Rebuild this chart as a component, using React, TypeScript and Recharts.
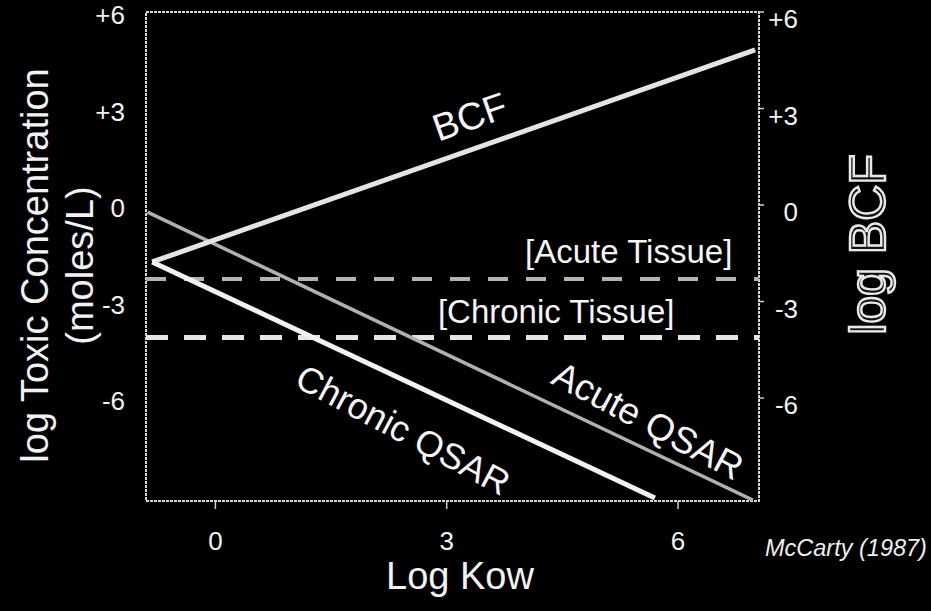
import React from 'react';
import { ComposedChart, Line, XAxis, YAxis, ReferenceArea, ReferenceDot, Label } from 'recharts';

// Log Kow (x) vs log concentration / log BCF (y)
const bcfLine = [
  { logKow: -0.82, value: -1.77 },
  { logKow: 7.0, value: 4.82 },
];
const chronicQsar = [
  { logKow: -0.82, value: -1.77 },
  { logKow: 5.7, value: -9.11 },
];
const acuteQsar = [
  { logKow: -0.88, value: -0.22 },
  { logKow: 6.97, value: -9.17 },
];
const acuteTissue = [
  { logKow: -0.9, value: -2.3 },
  { logKow: 7.05, value: -2.3 },
];
const chronicTissue = [
  { logKow: -0.9, value: -4.12 },
  { logKow: 7.05, value: -4.12 },
];

const xTicks = [0, 3, 6];
const yTicks = [-6, -3, 0, 3, 6];
const xDomain: [number, number] = [-0.9, 7.05];
const yDomain: [number, number] = [-9.2, 6];

const annotations = [
  { text: 'BCF', logKow: 3.3, value: 2.74, angle: -19.4, size: 38, baseline: 'central' },
  { text: 'Chronic QSAR', logKow: 2.435, value: -6.99, angle: 28, size: 36, baseline: 'central' },
  { text: 'Acute QSAR', logKow: 5.61, value: -6.71, angle: 28, size: 37, baseline: 'central' },
  { text: '[Acute Tissue]', logKow: 5.36, value: -1.8, angle: 0, size: 33, baseline: 'alphabetic' },
  { text: '[Chronic Tissue]', logKow: 4.42, value: -3.67, angle: 0, size: 33, baseline: 'alphabetic' },
];

const FONT = "'Liberation Sans', Arial, Helvetica, sans-serif";
const fmt = (v: number) => (v > 0 ? `+${v}` : `${v}`);

const LeftTick = (props: any) => {
  const { x, y, payload } = props;
  return (
    <text x={x} y={y + 3} textAnchor="end" dominantBaseline="central" fill="#f2f2f2" fontSize={26} fontFamily={FONT}>
      {fmt(payload.value)}
    </text>
  );
};

const RightTick = (props: any) => {
  const { x, y, payload } = props;
  return (
    <text x={x + 32} y={y + 7} textAnchor="end" dominantBaseline="central" fill="#f2f2f2" fontSize={26} fontFamily={FONT}>
      {fmt(payload.value)}
    </text>
  );
};

const BottomTick = (props: any) => {
  const { x, y, payload } = props;
  return (
    <text x={x} y={y} textAnchor="middle" dominantBaseline="hanging" fill="#f2f2f2" fontSize={26} fontFamily={FONT}>
      {payload.value}
    </text>
  );
};

const LeftTitle = (props: any) => {
  const vb = props.viewBox || { x: 0, y: 12, width: 146, height: 489 };
  const cy = vb.y + vb.height / 2 + 9;
  const x1 = vb.x + 35;
  const x2 = vb.x + 80;
  return (
    <g>
      <text x={x1} y={cy} transform={`rotate(-90 ${x1} ${cy})`} textAnchor="middle" dominantBaseline="central" fill="#f2f2f2" fontSize={38} fontFamily={FONT}>
        log Toxic Concentration
      </text>
      <text x={x2} y={cy} transform={`rotate(-90 ${x2} ${cy})`} textAnchor="middle" dominantBaseline="central" fill="#f2f2f2" fontSize={38} fontFamily={FONT}>
        (moles/L)
      </text>
    </g>
  );
};

const RightTitle = (props: any) => {
  const vb = props.viewBox || { x: 759, y: 12, width: 172, height: 489 };
  const cx = vb.x + 109;
  const cy = vb.y + vb.height / 2 - 12;
  return (
    <text x={cx} y={cy} transform={`rotate(-90 ${cx} ${cy})`} textAnchor="middle" dominantBaseline="central" fill="#111" stroke="#e8e8e8" strokeWidth={2.4} fontSize={50} fontFamily={FONT}>
      log BCF
    </text>
  );
};

const BottomTitle = (props: any) => {
  const vb = props.viewBox || { x: 146, y: 501, width: 613, height: 110 };
  return (
    <g>
      <text x={vb.x + 314} y={vb.y + 88} textAnchor="middle" fill="#f2f2f2" fontSize={38} fontFamily={FONT}>
        Log Kow
      </text>
      <text x={vb.x + 619} y={vb.y + 55} textAnchor="start" fill="#eeeeee" fontSize={23.5} fontStyle="italic" fontFamily={FONT}>
        McCarty (1987)
      </text>
    </g>
  );
};

const makeAnnotation = (a: any) => (p: any) => (
  <text
    x={p.cx}
    y={p.cy}
    transform={a.angle ? `rotate(${a.angle} ${p.cx} ${p.cy})` : undefined}
    textAnchor="middle"
    dominantBaseline={a.baseline}
    fill="#f5f5f5"
    fontSize={a.size}
    fontFamily={FONT}
  >
    {a.text}
  </text>
);

export default function App() {
  return (
    <div style={{ position: 'absolute', left: 0, top: 0, width: 931, height: 611, background: '#000' }}>
      <ComposedChart width={931} height={611} margin={{ top: 12, right: 0, bottom: 0, left: 0 }}>
        <XAxis
          type="number"
          dataKey="logKow"
          domain={xDomain}
          ticks={xTicks}
          allowDataOverflow
          height={110}
          axisLine={false}
          tickLine={{ stroke: '#cccccc', strokeWidth: 1.5 }}
          tickSize={8}
          tickMargin={22}
          tick={<BottomTick />}
        >
          <Label content={<BottomTitle />} />
        </XAxis>
        <YAxis
          yAxisId="left"
          type="number"
          domain={yDomain}
          ticks={yTicks}
          allowDataOverflow
          width={146}
          axisLine={false}
          tickLine={false}
          tickSize={0}
          tickMargin={21}
          tick={<LeftTick />}
        >
          <Label content={<LeftTitle />} />
        </YAxis>
        <YAxis
          yAxisId="right"
          orientation="right"
          type="number"
          domain={yDomain}
          ticks={yTicks}
          allowDataOverflow
          width={172}
          axisLine={false}
          tickLine={{ stroke: '#cccccc', strokeWidth: 1.5 }}
          tickSize={5}
          tickMargin={2}
          tick={<RightTick />}
        >
          <Label content={<RightTitle />} />
        </YAxis>

        <ReferenceArea
          yAxisId="left"
          x1={xDomain[0]}
          x2={xDomain[1]}
          y1={yDomain[0]}
          y2={yDomain[1]}
          fill="none"
          stroke="#d8d8d8"
          strokeWidth={2}
          strokeDasharray="3 1"
        />

        <Line yAxisId="left" data={acuteTissue} dataKey="value" stroke="#b4b4b4" strokeWidth={4} strokeDasharray="20 18" dot={false} isAnimationActive={false} />
        <Line yAxisId="left" data={chronicTissue} dataKey="value" stroke="#e6e6e6" strokeWidth={5} strokeDasharray="22 16" dot={false} isAnimationActive={false} />
        <Line yAxisId="left" data={acuteQsar} dataKey="value" stroke="#b0b0b0" strokeWidth={3.5} dot={false} isAnimationActive={false} />
        <Line yAxisId="left" data={bcfLine} dataKey="value" stroke="#e4e4e4" strokeWidth={5} dot={false} isAnimationActive={false} />
        <Line yAxisId="left" data={chronicQsar} dataKey="value" stroke="#f2f2f2" strokeWidth={5} dot={false} isAnimationActive={false} />

        {annotations.map((a) => (
          <ReferenceDot key={a.text} yAxisId="left" x={a.logKow} y={a.value} r={1} shape={makeAnnotation(a)} />
        ))}
      </ComposedChart>
    </div>
  );
}
